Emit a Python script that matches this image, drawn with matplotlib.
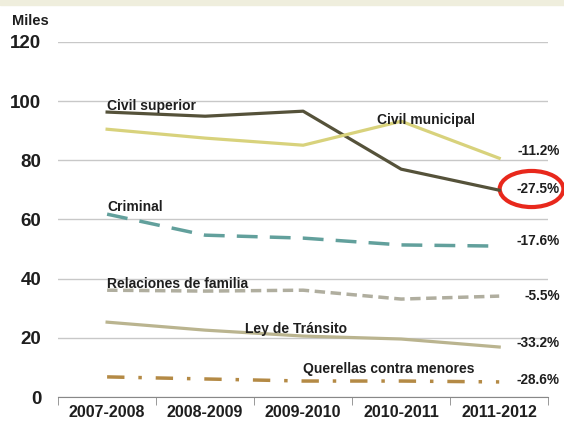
import matplotlib.pyplot as plt
from matplotlib.patches import Ellipse, Rectangle

plt.rcParams['font.family'] = ['Liberation Sans', 'DejaVu Sans']
plt.rcParams['font.weight'] = 'bold'
plt.rcParams['text.color'] = '#1e1e1e'
plt.rcParams['xtick.labelcolor'] = '#1e1e1e'
plt.rcParams['ytick.labelcolor'] = '#1e1e1e'

# Periods
periods = ['2007-2008', '2008-2009', '2009-2010', '2010-2011', '2011-2012']

# Cases (thousands)
civil_superior = [96.3, 94.9, 96.6, 77.0, 69.9]
civil_municipal = [90.5, 87.5, 85.1, 93.2, 80.7]
criminal = [61.8, 54.7, 53.7, 51.4, 51.0]
familia = [36.1, 35.8, 36.1, 33.1, 34.1]
transito = [25.3, 22.6, 20.6, 19.6, 16.9]
menores = [6.8, 6.1, 5.4, 5.4, 5.1]

changes = ['-11.2%', '-27.5%', '-17.6%', '-5.5%', '-33.2%', '-28.6%']
change_y = [83.2, 70.3, 52.7, 34.1, 18.3, 5.7]

fig = plt.figure(figsize=(5.64, 4.28), dpi=100)
fig.patches.append(Rectangle((0, 0.988), 1, 0.012, transform=fig.transFigure,
                             color='#efeedd', zorder=0))
ax = fig.add_axes([0.103, 0.0724, 0.869, 0.8296])

x = range(len(periods))
ax.plot(x, civil_superior, color='#55523a', lw=2.3)
ax.plot(x, civil_municipal, color='#d8d27c', lw=2.3)
ax.plot(x, criminal, color='#62a09c', lw=2.5, dashes=(6, 3.5))
ax.plot(x, familia, color='#b0ae9f', lw=2.5, dashes=(3, 1.6))
ax.plot(x, transito, color='#bab48f', lw=2.3)
ax.plot(x, menores, color='#b48a45', lw=2.5, dashes=(5, 4, 1, 4))

ax.set_xlim(-0.5, 4.5)
ax.set_ylim(0, 120)
ax.set_yticks([0, 20, 40, 60, 80, 100, 120])
ax.set_xticks(x)
ax.set_xticklabels(periods, fontsize=11.5)
ax.tick_params(axis='y', length=0, pad=12, labelsize=13.5)
ax.tick_params(axis='x', length=0, pad=6)
ax.set_xticks([-0.5, 0.5, 1.5, 2.5, 3.5, 4.5], minor=True)
ax.tick_params(axis='x', which='minor', length=6, color='#888888', direction='out')
ax.grid(axis='y', color='#c8c8c8', lw=1)
for s in ['top', 'right', 'left']:
    ax.spines[s].set_visible(False)
ax.spines['bottom'].set_color('#888888')
ax.set_axisbelow(True)

fs = 10
ax.text(0.0, 97.0, 'Civil superior', fontsize=fs, ha='left', va='baseline')
ax.text(2.755, 92.3, 'Civil municipal', fontsize=fs, ha='left', va='baseline')
ax.text(0.0, 62.9, 'Criminal', fontsize=fs, ha='left', va='baseline')
ax.text(0.0, 36.8, 'Relaciones de familia', fontsize=fs, ha='left', va='baseline')
ax.text(1.41, 21.6, 'Ley de Tránsito', fontsize=fs, ha='left', va='baseline')
ax.text(2.0, 8.1, 'Querellas contra menores', fontsize=fs, ha='left', va='baseline')

for lab, yv in zip(changes, change_y):
    ax.text(4.62, yv, lab, fontsize=9.8, ha='right', va='center', clip_on=False)

ax.add_patch(Ellipse((4.33, 70.3), 0.65, 12.2, fill=False, edgecolor='#e8281c',
                     lw=3, clip_on=False))

fig.text(0.021, 0.9416, 'Miles', fontsize=10.5, ha='left', va='baseline')

fig.savefig('out.png', dpi=100)
